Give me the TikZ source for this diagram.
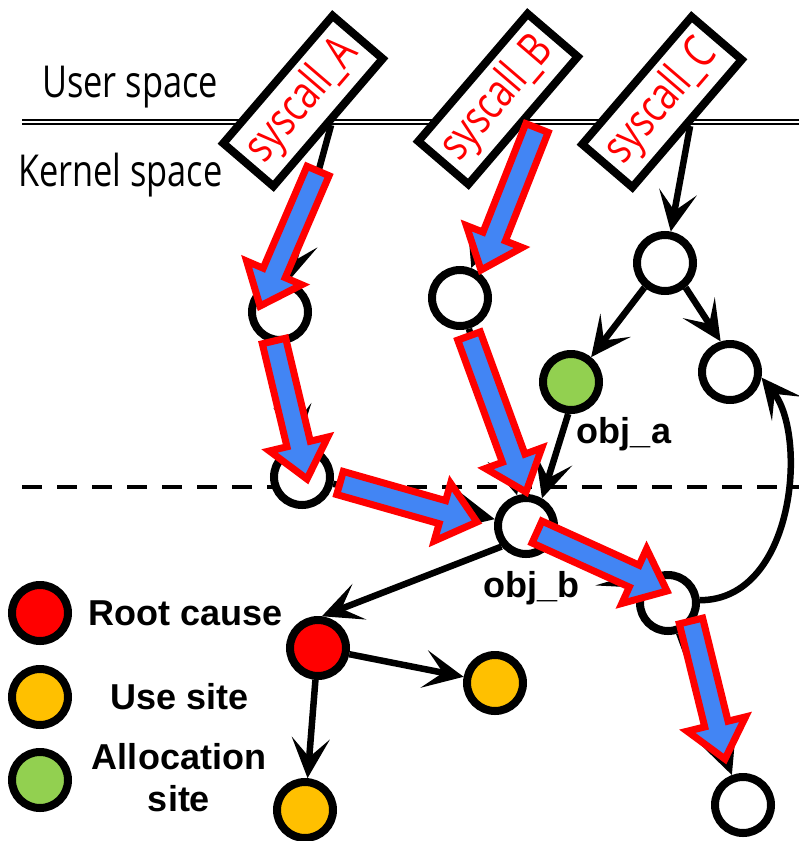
\documentclass[tikz,border=0pt]{standalone}
\usepackage{fontspec}
\setmainfont{Liberation Sans}
\newfontfamily\condfont[FakeStretch=0.78]{Open Sans}
\usetikzlibrary{arrows.meta,calc}
\definecolor{fblue}{RGB}{66,133,244}
\definecolor{cgreen}{RGB}{146,208,80}
\definecolor{cyellow}{RGB}{255,192,0}
\tikzset{
  circ/.style={circle, draw=black, line width=8pt, minimum size=56pt, inner sep=0pt, fill=white},
  sys/.style={draw, line width=8pt, fill=white, minimum width=168pt, minimum height=66pt, inner sep=0pt, rotate=49.4, font=\condfont\fontsize{46}{50}\selectfont, text=red},
  arr/.style={line width=6.5pt, -{Stealth[length=40pt,width=38pt,inset=19pt]}},
  fat/.style={draw=red, fill=fblue, line width=7pt, line join=miter},
  lab/.style={font=\bfseries\fontsize{36}{42}\selectfont},
  space/.style={font=\condfont\fontsize{44}{50}\selectfont, anchor=base west, inner sep=0pt}
}
\newcommand\fatarr[2]{%
  \coordinate (hb) at ($(#2)!36pt!(#1)$);
  \draw[fat] ($(#1)!12pt!90:(#2)$) -- ($(hb)!12pt!90:(#2)$) -- ($(hb)!30pt!90:(#2)$) -- (#2)
     -- ($(hb)!30pt!-90:(#2)$) -- ($(hb)!12pt!-90:(#2)$) -- ($(#1)!12pt!-90:(#2)$) -- cycle;
}
\begin{document}
\begin{tikzpicture}[x=1pt,y=-1pt]
\useasboundingbox (0,0) rectangle (799,841);
% separators
\coordinate (ul) at (22,122); \coordinate (ur) at (799,122);
\draw[line width=1.8pt, double, double distance=2.6pt] (ul) -- (ur);
\coordinate (dl) at (22,487); \coordinate (dr) at (799,487);
\draw[line width=4.5pt, dash pattern=on 20pt off 15pt] (dl) -- (dr);
\node[space] (us) at (42,97) {User space};
\node[space] (ks) at (18,186) {Kernel space};
% circles
\node[circ] (A1) at (280,312) {};
\node[circ] (A2) at (302,477) {};
\node[circ] (B1) at (460,298) {};
\node[circ] (C1) at (665,263) {};
\node[circ, fill=cgreen] (ga) at (571,382) {};
\node[circ] (Cr) at (730,372) {};
\node[circ] (objb) at (526,526) {};
\node[circ] (D) at (668,603) {};
\node[circ] (E) at (743,805) {};
\node[circ, fill=red] (root) at (318,648) {};
\node[circ, fill=cyellow] (y1) at (495,683) {};
\node[circ, fill=cyellow] (y2) at (305,810) {};
% syscall boxes
\node[sys] (sA) at (303,101) {syscall\_A};
\node[sys] (sB) at (498,99) {syscall\_B};
\node[sys] (sC) at (662,102) {syscall\_C};
% black arrows
\draw[arr] (sA.south) -- (A1);
\draw[arr] (sB.south) -- (B1);
\draw[arr] (sC.south) -- (C1);
\draw[arr] (A1) -- (A2);
\draw[arr] (A2) -- (objb);
\draw[arr] (B1) -- (objb);
\draw[arr] (ga.265) -- (objb.60);
\draw[arr] (C1.230) -- (ga.51);
\draw[arr] (C1.310) -- (Cr.107);
\draw[arr] (objb.220) -- (root.83);
\draw[arr] (objb) -- (D);
\draw[arr] (D) -- (E);
\draw[arr] (D.5) .. controls (795,600) and (808,435) .. (Cr.-10);
\draw[arr] (root) -- (y1);
\draw[arr] (root) -- (y2);
% fat arrows
\coordinate (f1a) at (318,171); \coordinate (f1b) at (260,306);
\coordinate (f7a) at (537,128); \coordinate (f7b) at (481,270);
\coordinate (f2a) at (274,341); \coordinate (f2b) at (307,479);
\coordinate (f3a) at (340,483); \coordinate (f3b) at (477,522);
\coordinate (f4a) at (469,336); \coordinate (f4b) at (526,492);
\coordinate (f5a) at (537,532); \coordinate (f5b) at (667,591);
\coordinate (f6a) at (691,621); \coordinate (f6b) at (725,759);
\fatarr{f1a}{f1b}
\fatarr{f7a}{f7b}
\fatarr{f2a}{f2b}
\fatarr{f3a}{f3b}
\fatarr{f4a}{f4b}
\fatarr{f5a}{f5b}
\fatarr{f6a}{f6b}
% labels
\node[lab, anchor=base] (la) at (624,443) {obj\_a};
\node[lab, anchor=base] (lb) at (531,597) {obj\_b};
% legend
\node[circ, fill=red] (L1) at (40,613) {};
\node[circ, fill=cyellow] (L2) at (40,697) {};
\node[circ, fill=cgreen] (L3) at (40,780) {};
\node[lab] (t1) at (186,613) {Root cause};
\node[lab] (t2) at (180,697) {Use site};
\node[lab, align=center] (t3) at (179,778) {Allocation\\site};
\end{tikzpicture}
\end{document}
